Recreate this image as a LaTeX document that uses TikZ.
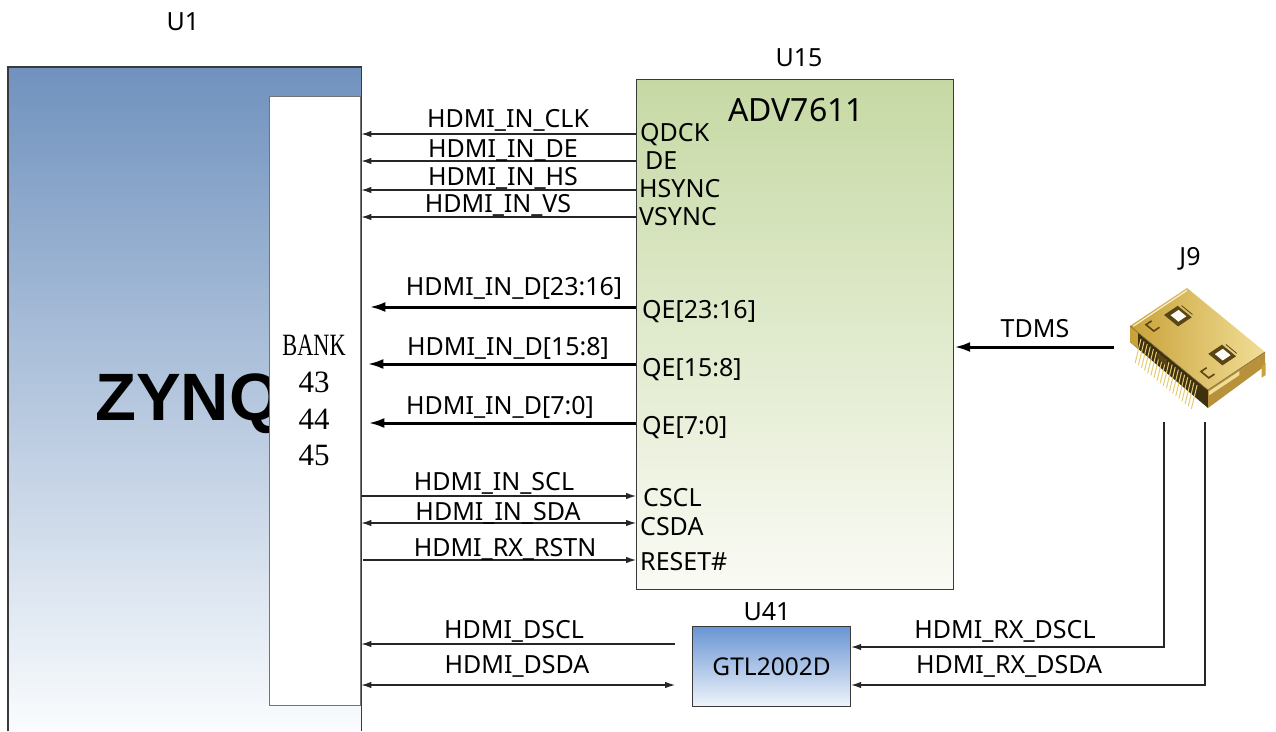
\documentclass[tikz,border=0pt]{standalone}
\usepackage{fontspec}
\setmainfont{Noto Sans}
\newfontfamily\zfont{Liberation Sans}
\newfontfamily\bkfont{Liberation Serif}
\usetikzlibrary{arrows.meta,calc}
\definecolor{uonetop}{HTML}{7092BE}
\definecolor{uonebot}{HTML}{FAFCFE}
\definecolor{ufifttop}{HTML}{C6D9A4}
\definecolor{ufiftbot}{HTML}{FAFBF5}
\definecolor{ufortop}{HTML}{6A95D3}
\definecolor{uforbot}{HTML}{EFF4FB}
\definecolor{edgec}{HTML}{3A3A3A}
\definecolor{goldA}{HTML}{C9A23A}
\definecolor{goldB}{HTML}{F1DE96}
\definecolor{goldD}{HTML}{5A4514}
\definecolor{goldM}{HTML}{B8923A}
\definecolor{goldP}{HTML}{E6CC70}
\begin{document}
\begin{tikzpicture}[x=1pt,y=-1pt,
  lbl/.style={font=\fontsize{25}{27}\selectfont, inner sep=0pt, anchor=base},
  pinlbl/.style={lbl, anchor=base west},
  sig/.style={draw=black!85, line width=1.1pt},
  tipl/.style={sig, -{Latex[length=10pt,width=6.5pt]}},
  tipb/.style={sig, {Latex[length=10pt,width=6.5pt]}-{Latex[length=10pt,width=6.5pt]}},
  bus/.style={draw=black, line width=3pt, -{Latex[length=16pt,width=10pt]}},
  chip/.style={draw=edgec, line width=1.2pt, inner sep=0pt, anchor=north west}
]
\useasboundingbox (0,0) rectangle (1276,731);
\fill[white] (0,0) rectangle (1276,731);

% U1
\node[inner sep=0pt, anchor=north west, minimum width=353pt, minimum height=664pt,
      top color=uonetop, bottom color=uonebot] (u1) at (8,67) {};
\draw[edgec, line width=1.5pt] (u1.south west) -- (u1.north west) -- (u1.north east) -- (u1.south east);
\node[lbl] (u1lbl) at (183,30) {U1};
\node[font=\zfont\bfseries\fontsize{67}{70}\selectfont, inner sep=0pt, anchor=base west] (zynq) at (95,420) {ZYNQ};
\node[draw=black!55, line width=1pt, fill=white, inner sep=0pt, anchor=north west,
      minimum width=91pt, minimum height=609pt] (bank) at (269,96) {};
\node[font=\bkfont\fontsize{31}{33}\selectfont, inner sep=0pt, anchor=base] (bk) at (314,355) {\scalebox{0.72}[1]{BANK}};
\node[font=\bkfont\fontsize{31}{33}\selectfont, inner sep=0pt, anchor=base] (b43) at (314,392) {43};
\node[font=\bkfont\fontsize{31}{33}\selectfont, inner sep=0pt, anchor=base] (b44) at (314,429) {44};
\node[font=\bkfont\fontsize{31}{33}\selectfont, inner sep=0pt, anchor=base] (b45) at (314,465) {45};
\draw[edgec, line width=1.5pt] (u1.north east) -- (u1.south east);

% U15
\node[chip, minimum width=317pt, minimum height=510pt, top color=ufifttop, bottom color=ufiftbot] (u15) at (636,79) {};
\node[lbl] (u15lbl) at (799,66) {U15};
\node[lbl, font=\fontsize{32}{34}\selectfont] (adv) at (796,121) {ADV7611};

% pin labels
\node[pinlbl] (pqdck) at (640,141) {QDCK};
\node[pinlbl] (pde) at (645,169) {DE};
\node[pinlbl] (phs) at (639,197) {HSYNC};
\node[pinlbl] (pvs) at (639,225) {VSYNC};
\node[pinlbl] (pq1) at (642,318) {QE[23:16]};
\node[pinlbl] (pq2) at (642,376) {QE[15:8]};
\node[pinlbl] (pq3) at (642,434) {QE[7:0]};
\node[pinlbl] (pscl) at (643,506) {CSCL};
\node[pinlbl] (psda) at (640,535) {CSDA};
\node[pinlbl] (prst) at (640,570) {RESET\#};

% control signals
\draw[tipl] (u15.west |- 0,134) -- (u1.east |- 0,134);
\draw[tipl] (u15.west |- 0,161) -- (u1.east |- 0,161);
\draw[tipl] (u15.west |- 0,190) -- (u1.east |- 0,190);
\draw[tipl] (u15.west |- 0,217) -- (u1.east |- 0,217);
\node[lbl] (lclk) at (508,127) {HDMI\_IN\_CLK};
\node[lbl] (lde) at (503,157) {HDMI\_IN\_DE};
\node[lbl] (lhs) at (503,185) {HDMI\_IN\_HS};
\node[lbl] (lvs) at (498,212) {HDMI\_IN\_VS};

% data buses
\draw[bus, shorten >=8pt] (u15.west |- 0,307) -- (u1.east |- 0,307);
\draw[bus, shorten >=6pt] (u15.west |- 0,364) -- (u1.east |- 0,364);
\draw[bus, shorten >=7pt] (u15.west |- 0,423) -- (u1.east |- 0,423);
\node[lbl] (ld1) at (514,295) {HDMI\_IN\_D[23:16]};
\node[lbl] (ld2) at (508,355) {HDMI\_IN\_D[15:8]};
\node[lbl] (ld3) at (500,414) {HDMI\_IN\_D[7:0]};

% I2C and reset
\draw[tipl] (u1.east |- 0,496) -- (u15.west |- 0,496);
\draw[tipb] (u1.east |- 0,523) -- (u15.west |- 0,523);
\draw[tipl, shorten <=2pt] (u1.east |- 0,560) -- (u15.west |- 0,560);
\node[lbl] (lscl) at (494,490) {HDMI\_IN\_SCL};
\node[lbl] (lsda) at (498,520) {HDMI\_IN\_SDA};
\node[lbl] (lrst) at (505,556) {HDMI\_RX\_RSTN};

% U41
\node[chip, minimum width=158pt, minimum height=80pt, top color=ufortop, bottom color=uforbot,
      font=\fontsize{24.5}{26}\selectfont] (u41) at (692,626) {GTL2002D};
\node[lbl] (u41lbl) at (767,620) {U41};
\draw[tipl, shorten <=17pt] (u41.west |- 0,644) -- (u1.east |- 0,644);
\draw[tipb, shorten <=17pt] (u41.west |- 0,685) -- (u1.east |- 0,685);
\node[lbl] (ldscl) at (514,638) {HDMI\_DSCL};
\node[lbl] (ldsda) at (517,673) {HDMI\_DSDA};

% J9 connector
\node[inner sep=0pt, minimum width=164pt, minimum height=142pt] (j9) at (1196,351) {};
\node[lbl] (j9lbl) at (1190,265) {J9};
\begin{scope}[shift={(1130,326)}, x={(57pt,38pt)}, y={(78pt,-64pt)}, z={(0pt,-1pt)}]
  % front-left face (pins side)
  \fill[goldD!70!black] (0,0,0) -- (0,1,0) -- (0,1,18) -- (0,0,16) -- cycle;
  \fill[goldA] (0,0,0) -- (0,0.1,0) -- (0,0.1,16) -- (0,0,16) -- cycle;
  \foreach \b in {0.14,0.18,...,0.86} {
    \draw[goldP, line width=1pt] (0,\b,4) -- (-0.1,\b,24);
  }
  \fill[goldD] (0,0.35,4) -- (0,0.47,4) -- (0,0.47,10) -- (0,0.35,10) -- cycle;
  % front-right face
  \fill[goldM] (0,1,0) -- (1,1,0) -- (1,1,14) -- (0,1,18) -- cycle;
  \fill[goldB] (0.02,1,2) -- (0.55,1,2) -- (0.55,1,6) -- (0.02,1,6) -- cycle;
  \fill[goldA] (0.90,1.03,8) -- (0.97,1.03,8) -- (0.97,1.03,20) -- (0.90,1.03,20) -- cycle;
  % top face
  \shade[left color=goldA, right color=goldB] (0,0,0) -- (1,0,0) -- (1,1,0) -- (0,1,0) -- cycle;
  \draw[white!60!goldB, line width=1.2pt] (0.03,0.02,0) -- (0.97,0.02,0);
  \draw[goldD!80, line width=0.6pt] (0,0,0) -- (0,1,0) -- (1,1,0);
  % windows
  \fill[goldD] (0.46,0.10,0) -- (0.70,0.10,0) -- (0.70,0.28,0) -- (0.46,0.28,0) -- cycle;
  \fill[white!90!goldB] (0.52,0.14,0) -- (0.66,0.14,0) -- (0.66,0.24,0) -- (0.52,0.24,0) -- cycle;
  \fill[goldD] (0.43,0.69,0) -- (0.67,0.69,0) -- (0.67,0.87,0) -- (0.43,0.87,0) -- cycle;
  \fill[white!90!goldB] (0.49,0.73,0) -- (0.63,0.73,0) -- (0.63,0.83,0) -- (0.49,0.83,0) -- cycle;
  \draw[goldD, line width=0.8pt] (0.74,0.12,0) -- (0.74,0.26,0);
  \draw[goldD, line width=0.8pt] (0.71,0.71,0) -- (0.71,0.85,0);
  % U marks
  \draw[goldD, line width=1.6pt] (0.27,0.08,0) -- (0.17,0.08,0) -- (0.17,0.18,0) -- (0.27,0.18,0);
  \draw[goldD, line width=1.6pt] (0.25,0.80,0) -- (0.15,0.80,0) -- (0.15,0.90,0) -- (0.25,0.90,0);
\end{scope}

% TDMS
\draw[bus] (j9.west |- 0,347) -- (u15.east |- 0,347);
\node[lbl] (ltdms) at (1035,337) {TDMS};

% DDC lines
\draw[tipl] (j9.south -| 1164,0) |- (u41.east |- 0,647);
\draw[tipl] (j9.south -| 1205,0) |- (u41.east |- 0,685);
\node[lbl] (lrxscl) at (1005,638) {HDMI\_RX\_DSCL};
\node[lbl] (lrxsda) at (1009,673) {HDMI\_RX\_DSDA};
\end{tikzpicture}
\end{document}
